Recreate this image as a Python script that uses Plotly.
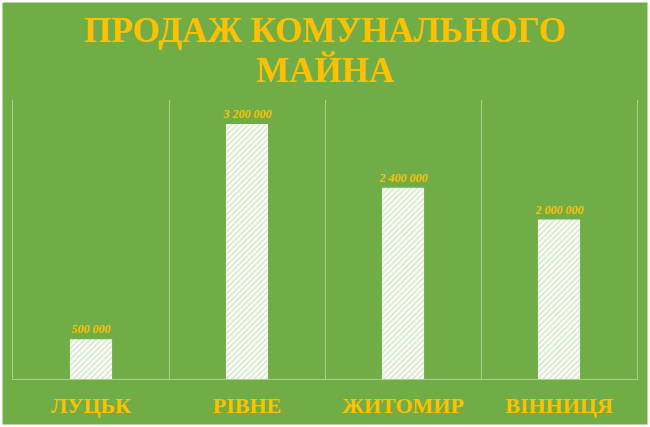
import plotly.graph_objects as go

categories = ["ЛУЦЬК", "РІВНЕ", "ЖИТОМИР", "ВІННИЦЯ"]
values = [500000, 3200000, 2400000, 2000000]
value_labels = ["500 000", "3 200 000", "2 400 000", "2 000 000"]
title_lines = ["ПРОДАЖ КОМУНАЛЬНОГО", "МАЙНА"]

GREEN = "#70AD47"
GOLD = "#FFC000"
GRID = "#A9D18E"
SERIF = "Liberation Serif, Times New Roman, serif"

W, H = 650, 427
ML, MR, MT, MB = 13, 13, 100, 48
pw, ph = W - ML - MR, H - MT - MB

fig = go.Figure(go.Bar(
    x=categories,
    y=values,
    text=value_labels,
    textposition="outside",
    constraintext="none",
    cliponaxis=False,
    textfont=dict(family=SERIF, size=12, color=GOLD, weight="bold", style="italic"),
    marker=dict(
        color="white",
        line=dict(width=0),
        pattern=dict(shape="/", fgcolor="#A9D18E", bgcolor="white", size=4, solidity=0.45),
    ),
))

# thin white frame around the chart (decoration)
fig.add_shape(
    type="rect", xref="paper", yref="paper",
    x0=-ML / pw, x1=1 + MR / pw, y0=-MB / ph, y1=1 + MT / ph,
    line=dict(color="white", width=5), fillcolor="rgba(0,0,0,0)", layer="above",
)

# two-line title
for line, ypx in zip(title_lines, [30, 70]):
    fig.add_annotation(
        text=line, xref="paper", yref="paper",
        x=0.5, xanchor="center",
        y=1 + (MT - ypx) / ph, yanchor="middle",
        showarrow=False,
        font=dict(family=SERIF, size=35, color=GOLD, weight="bold"),
    )

fig.update_layout(
    width=W, height=H,
    paper_bgcolor=GREEN, plot_bgcolor=GREEN,
    margin=dict(l=ML, r=MR, t=MT, b=MB),
    bargap=0.73,
    showlegend=False,
    xaxis=dict(
        type="category",
        tickson="boundaries",
        automargin=False,
        showgrid=True, gridcolor=GRID, gridwidth=1,
        ticks="", showline=True, linecolor=GRID, linewidth=1,
        tickfont=dict(family=SERIF, size=22, color=GOLD, weight="bold"),
        ticklabelstandoff=7,
    ),
    yaxis=dict(
        range=[0, 3500000],
        automargin=False,
        showgrid=False, zeroline=False, showticklabels=False, ticks="",
        showline=True, linecolor=GRID, linewidth=1, mirror=True,
    ),
)

fig.write_html(
    "out.html",
    config={"displayModeBar": False},
    post_script="document.body.style.margin='0px';",
)
